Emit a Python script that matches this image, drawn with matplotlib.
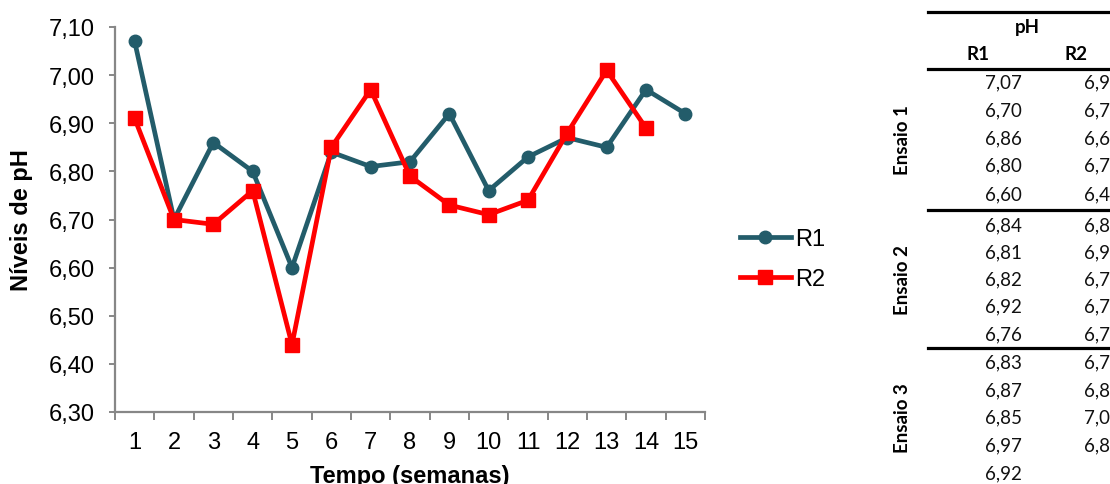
import matplotlib
matplotlib.use("Agg")
import matplotlib.pyplot as plt
from matplotlib.ticker import FixedLocator, FuncFormatter

# ---- data ----
semanas = list(range(1, 16))
r1 = [7.07, 6.70, 6.86, 6.80, 6.60, 6.84, 6.81, 6.82, 6.92, 6.76, 6.83, 6.87, 6.85, 6.97, 6.92]
r2 = [6.91, 6.70, 6.69, 6.76, 6.44, 6.85, 6.97, 6.79, 6.73, 6.71, 6.74, 6.88, 7.01, 6.89]
series_names = ["R1", "R2"]
ensaios = ["Ensaio 1", "Ensaio 2", "Ensaio 3"]
y_ticks = [6.30, 6.40, 6.50, 6.60, 6.70, 6.80, 6.90, 7.00, 7.10]

W, H = 1110, 485
fig = plt.figure(figsize=(W / 100, H / 100), dpi=100)

def fx(x):
    return x / W

def fy(y):
    return 1 - y / H

ax = fig.add_axes([fx(115), fy(413), fx(705) - fx(115), fy(28) - fy(413)])

c1 = "#235C6A"
c2 = "#FF0000"
ax.plot(semanas, r1, color=c1, lw=3.4, marker="o", ms=9, label=series_names[0], zorder=3)
ax.plot(semanas[:len(r2)], r2, color=c2, lw=3.4, marker="s", ms=10, label=series_names[1], zorder=4)

ax.set_xlim(0.5, 15.5)
ax.set_ylim(6.30, 7.10)

for s in ["top", "right"]:
    ax.spines[s].set_visible(False)
for s in ["left", "bottom"]:
    ax.spines[s].set_color("#878787")
    ax.spines[s].set_linewidth(1.6)

tick_font = dict(family=["Liberation Sans", "DejaVu Sans"], size=17)

ax.yaxis.set_major_locator(FixedLocator(y_ticks))
ax.yaxis.set_major_formatter(FuncFormatter(lambda v, p: f"{v:.2f}".replace(".", ",")))
ax.tick_params(axis="y", direction="out", length=4.5, width=1.4, color="#878787", pad=10)

ax.xaxis.set_major_locator(FixedLocator([i + 0.5 for i in range(0, 16)]))
ax.xaxis.set_major_formatter(FuncFormatter(lambda v, p: ""))
ax.xaxis.set_minor_locator(FixedLocator(semanas))
ax.xaxis.set_minor_formatter(FuncFormatter(lambda v, p: f"{int(round(v))}"))
ax.tick_params(axis="x", which="major", direction="out", length=5.5, width=1.4, color="#878787")
ax.tick_params(axis="x", which="minor", length=0, pad=14)

for lab in ax.get_yticklabels() + ax.get_xticklabels(minor=True):
    lab.set_fontfamily(tick_font["family"])
    lab.set_fontsize(tick_font["size"])

ax.set_ylabel("Níveis de pH", fontsize=17, fontweight="bold", family=["Liberation Sans", "DejaVu Sans"])
ax.yaxis.set_label_coords((33 - 115) / (705 - 115), 0.5)
ax.set_xlabel("Tempo (semanas)", fontsize=17, fontweight="bold", family=["Liberation Sans", "DejaVu Sans"], va="center")
ax.xaxis.set_label_coords(0.5, -(477 - 413) / (413 - 28))

leg = fig.legend(loc="center left", bbox_to_anchor=(fx(728), fy(260)), frameon=False,
                 prop={"family": ["Liberation Sans", "DejaVu Sans"], "size": 17},
                 handlelength=2.15, handletextpad=0.2, labelspacing=0.75, borderpad=0)

# ---- table (cut by the right edge, as in the reference) ----
tfont = ["Lato", "DejaVu Sans"]
tsize = 13.5
lw_t = 2.3
for yl in [13, 70, 211, 349]:
    fig.add_artist(plt.Line2D([fx(928), fx(1130)], [fy(yl), fy(yl)], color="black", lw=lw_t,
                              transform=fig.transFigure, clip_on=False))

fig.text(fx(1027), fy(27), "pH", ha="center", va="center", family=tfont, size=tsize, fontweight="bold")
fig.text(fx(978), fy(55), series_names[0], ha="center", va="center", family=tfont, size=tsize, fontweight="bold")
fig.text(fx(1076), fy(55), series_names[1], ha="center", va="center", family=tfont, size=tsize, fontweight="bold")

row_y = [83, 111, 139, 166, 195, 226, 253, 280, 307, 335, 363, 391, 418, 446, 474]
for i, v in enumerate(r1):
    fig.text(fx(1022), fy(row_y[i]), f"{v:.2f}".replace(".", ","), ha="right", va="center",
             family=tfont, size=tsize, color="#111111")
for i, v in enumerate(r2):
    fig.text(fx(1121), fy(row_y[i]), f"{v:.2f}".replace(".", ","), ha="right", va="center",
             family=tfont, size=tsize, color="#111111")

ens_y = [140, 280, 418]
for name, yc in zip(ensaios, ens_y):
    fig.text(fx(903), fy(yc), name, ha="center", va="center", rotation=90,
             family=tfont, size=tsize, fontweight="bold")

fig.savefig("out.png", dpi=100)
